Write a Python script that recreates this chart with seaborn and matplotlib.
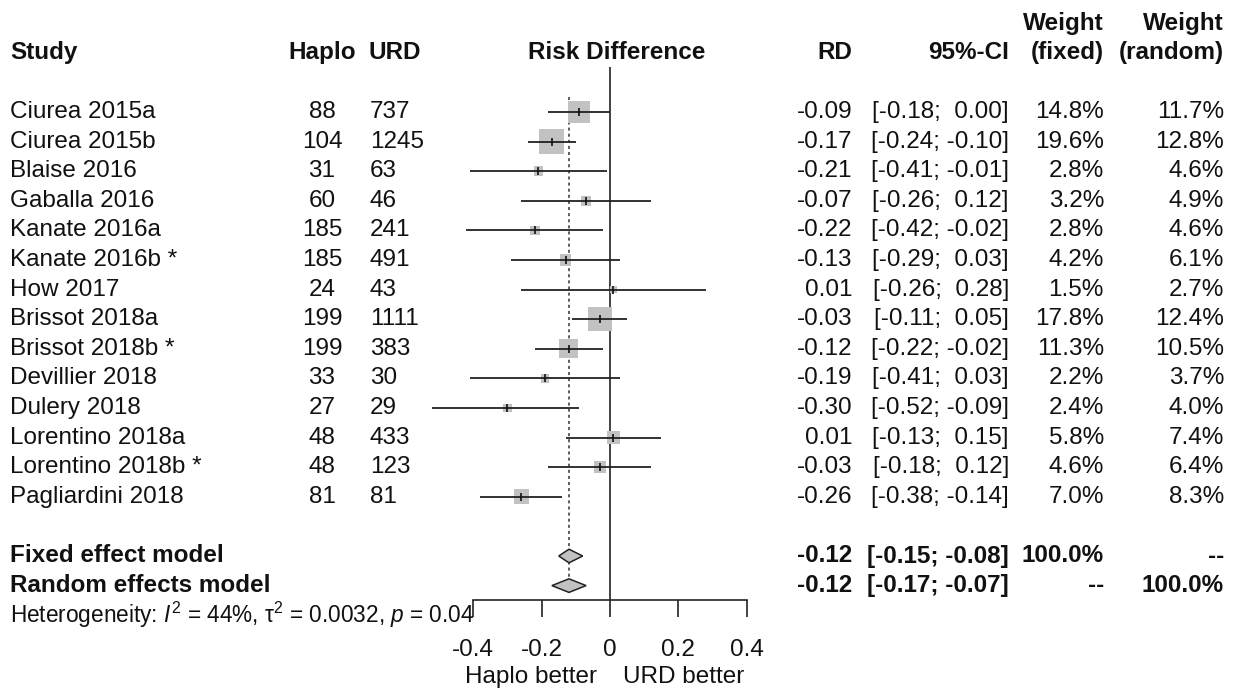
import numpy as np
import pandas as pd
import matplotlib
matplotlib.use("Agg")
import matplotlib.pyplot as plt
import seaborn as sns

# study level data
studies = ["Ciurea 2015a", "Ciurea 2015b", "Blaise 2016", "Gaballa 2016", "Kanate 2016a",
           "Kanate 2016b *", "How 2017", "Brissot 2018a", "Brissot 2018b *", "Devillier 2018",
           "Dulery 2018", "Lorentino 2018a", "Lorentino 2018b *", "Pagliardini 2018"]
haplo_n = [88, 104, 31, 60, 185, 185, 24, 199, 199, 33, 27, 48, 48, 81]
urd_n = [737, 1245, 63, 46, 241, 491, 43, 1111, 383, 30, 29, 433, 123, 81]
rd = [-0.09, -0.17, -0.21, -0.07, -0.22, -0.13, 0.01, -0.03, -0.12, -0.19, -0.30, 0.01, -0.03, -0.26]
ci_lo = [-0.18, -0.24, -0.41, -0.26, -0.42, -0.29, -0.26, -0.11, -0.22, -0.41, -0.52, -0.13, -0.18, -0.38]
ci_hi = [0.00, -0.10, -0.01, 0.12, -0.02, 0.03, 0.28, 0.05, -0.02, 0.03, -0.09, 0.15, 0.12, -0.14]
w_fixed = [14.8, 19.6, 2.8, 3.2, 2.8, 4.2, 1.5, 17.8, 11.3, 2.2, 2.4, 5.8, 4.6, 7.0]
w_random = [11.7, 12.8, 4.6, 4.9, 4.6, 6.1, 2.7, 12.4, 10.5, 3.7, 4.0, 7.4, 6.4, 8.3]

# pooled estimates
models = ["Fixed effect model", "Random effects model"]
model_est = [-0.12, -0.12]
model_lo = [-0.15, -0.17]
model_hi = [-0.08, -0.07]
model_w_fixed = ["100.0%", "--"]
model_w_random = ["--", "100.0%"]

xticks = [-0.4, -0.2, 0, 0.2, 0.4]
xticklabels = ["-0.4", "-0.2", "0", "0.2", "0.4"]

sns.set_theme(style="white")
plt.rcParams["font.family"] = ["Liberation Sans", "DejaVu Sans"]
plt.rcParams["mathtext.fontset"] = "custom"
plt.rcParams["mathtext.rm"] = "Liberation Sans"
plt.rcParams["mathtext.it"] = "Liberation Sans:italic"

W, H = 1243, 691
FS = 17.5
zero_px, unit_px = 610, 341.7
row0_px, row_px = 112, 29.6

fig = plt.figure(figsize=(W / 100, H / 100), dpi=100)
ax = fig.add_axes([0, 0, 1, 1])
ax.set_xlim(-zero_px / unit_px, (W - zero_px) / unit_px)
ax.set_ylim((H - row0_px) / row_px, -row0_px / row_px)

df = pd.DataFrame({"study": studies, "rd": rd, "lo": ci_lo, "hi": ci_hi,
                   "w_fixed": w_fixed, "w_random": w_random})
df["row"] = np.arange(len(df))
n = len(df)
mrows = [n + 1, n + 2]

# reference lines
ax.vlines(0, -1.53, n + 2.5, color="#222222", lw=1.2, zorder=1)
ax.vlines(model_est[1], -0.52, n + 2.1, color="#333333", lw=1.1,
          linestyles=(0, (2, 2)), zorder=1)

# squares sized by fixed weight
sns.scatterplot(data=df, x="rd", y="row", size="w_fixed", sizes=(0, 331), size_norm=(0, 20),
                marker="s", color="#C2C2C2", edgecolor="none", linewidth=0,
                legend=False, ax=ax, zorder=2)
ax.hlines(df["row"], df["lo"], df["hi"], color="#222222", lw=1.3, zorder=3)
ax.plot(df["rd"], df["row"], ls="none", marker="|", ms=6, mew=1.2, color="#111111", zorder=4)

# diamonds
for r, est, lo, hi in zip(mrows, model_est, model_lo, model_hi):
    ax.fill([lo, est, hi, est], [r, r - 0.23, r, r + 0.23], facecolor="#C2C2C2",
            edgecolor="#222222", lw=1.1, zorder=3)

# x axis
for s in ["top", "left", "right"]:
    ax.spines[s].set_visible(False)
ax.spines["bottom"].set_position(("data", n + 2.5))
ax.spines["bottom"].set_bounds(-0.4, 0.4)
ax.spines["bottom"].set_color("#222222")
ax.spines["bottom"].set_linewidth(1.2)
ax.set_xticks(xticks)
ax.set_xticklabels(xticklabels)
ax.tick_params(axis="x", direction="out", length=12, width=1.2, color="#222222",
               pad=16, labelsize=FS, labelcolor="#111111", bottom=True)
ax.set_yticks([])
ax.set_xlabel("")
ax.set_ylabel("")
ax.text(-0.038, n + 5.1, "Haplo better", ha="right", va="center", fontsize=FS, color="#111111")
ax.text(0.038, n + 5.1, "URD better", ha="left", va="center", fontsize=FS, color="#111111")

# text columns
tr = ax.get_yaxis_transform()
def col(xpx, r, s, ha, bold=False):
    ax.text(xpx / W, r, s, transform=tr, ha=ha, va="center", fontsize=FS, color="#111111",
            fontweight="bold" if bold else "normal")

hdr = -2
col(10, hdr, "Study", "left", True)
col(322, hdr, "Haplo", "center", True)
col(369, hdr, "URD", "left", True)
ax.text(0.02, hdr, "Risk Difference", ha="center", va="center", fontsize=FS,
        fontweight="bold", color="#111111")
col(852, hdr, "RD", "right", True)
col(1009, hdr, "95%-CI", "right", True)
col(1104, hdr - 1, "Weight", "right", True)
col(1104, hdr, "(fixed)", "right", True)
col(1224, hdr - 1, "Weight", "right", True)
col(1224, hdr, "(random)", "right", True)

for i in range(n):
    col(10, i, studies[i], "left")
    col(322, i, str(haplo_n[i]), "center")
    col(370, i, str(urd_n[i]), "left")
    col(852, i, f"{rd[i]:.2f}", "right")
    col(1009, i, f"[{ci_lo[i]:5.2f}; {ci_hi[i]:5.2f}]", "right")
    col(1104, i, f"{w_fixed[i]:.1f}%", "right")
    col(1224, i, f"{w_random[i]:.1f}%", "right")

for k, r in enumerate(mrows):
    col(10, r, models[k], "left", True)
    col(852, r, f"{model_est[k]:.2f}", "right", True)
    col(1009, r, f"[{model_lo[k]:5.2f}; {model_hi[k]:5.2f}]", "right", True)
    col(1104, r, model_w_fixed[k], "right", True)
    col(1224, r, model_w_random[k], "right", True)

ax.text(10 / W, n + 3, r"Heterogeneity: $\mathit{I}^2$ = 44%, $\mathrm{\tau}^2$ = 0.0032, $\mathit{p}$ = 0.04",
        transform=tr, ha="left", va="center", fontsize=16.3, color="#111111")

fig.savefig("out.png", dpi=100, facecolor="white")
